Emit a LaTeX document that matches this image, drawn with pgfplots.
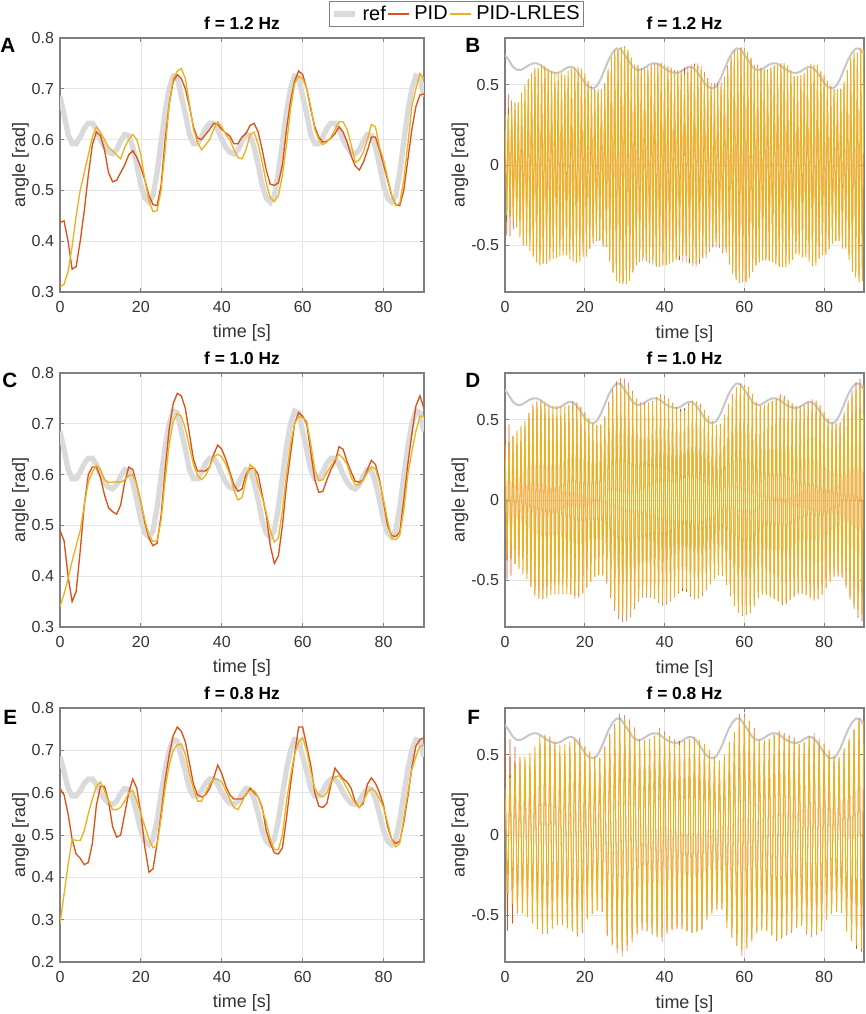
\documentclass[border=0pt]{standalone}
\usepackage{fontspec}
\setmainfont{Liberation Sans}
\usepackage{pgfplots}
\usepackage{pgfplotstable}
\pgfplotsset{compat=1.18}

\definecolor{cpid}{rgb}{0.85,0.325,0.098}
\definecolor{clr}{rgb}{0.929,0.694,0.125}
\definecolor{cref}{rgb}{0.855,0.855,0.855}
\definecolor{crefr}{rgb}{0.78,0.78,0.78}
\definecolor{caxis}{rgb}{0.5,0.5,0.5}
\definecolor{ctext}{rgb}{0.2,0.2,0.2}
\definecolor{cgrid}{rgb}{0.9,0.9,0.9}

\pgfplotstableread{
t r
0 0.685
1 0.65
2 0.61
3 0.592
4 0.592
5 0.605
6 0.622
7 0.632
8 0.632
9 0.62
10 0.60
11 0.585
12 0.575
13 0.572
14 0.58
15 0.597
16 0.61
17 0.608
18 0.585
19 0.55
20 0.51
21 0.485
22 0.477
23 0.49
24 0.535
25 0.595
26 0.655
27 0.70
28 0.725
29 0.722
30 0.685
31 0.65
32 0.61
33 0.592
34 0.592
35 0.605
36 0.622
37 0.632
38 0.632
39 0.62
40 0.60
41 0.585
42 0.575
43 0.572
44 0.58
45 0.597
46 0.61
47 0.608
48 0.585
49 0.55
50 0.51
51 0.485
52 0.477
53 0.49
54 0.535
55 0.595
56 0.655
57 0.70
58 0.725
59 0.722
60 0.685
61 0.65
62 0.61
63 0.592
64 0.592
65 0.605
66 0.622
67 0.632
68 0.632
69 0.62
70 0.60
71 0.585
72 0.575
73 0.572
74 0.58
75 0.597
76 0.61
77 0.608
78 0.585
79 0.55
80 0.51
81 0.485
82 0.477
83 0.49
84 0.535
85 0.595
86 0.655
87 0.70
88 0.725
89 0.722
90 0.685
}\tref

% panel A: t, PID-LRLES (a), PID (p)
\pgfplotstableread{
t a p
0 0.31 0.437
1 0.315 0.44
2 0.34 0.40
3 0.39 0.345
4 0.45 0.35
5 0.50 0.40
6 0.535 0.46
7 0.57 0.53
8 0.605 0.59
9 0.625 0.615
10 0.615 0.608
11 0.60 0.58
12 0.585 0.535
13 0.578 0.517
14 0.57 0.52
15 0.562 0.535
16 0.585 0.55
17 0.60 0.57
18 0.61 0.578
19 0.60 0.565
20 0.57 0.545
21 0.52 0.52
22 0.48 0.49
23 0.458 0.472
24 0.46 0.47
25 0.50 0.51
26 0.58 0.60
27 0.67 0.67
28 0.72 0.715
29 0.735 0.728
30 0.74 0.72
31 0.72 0.70
32 0.67 0.665
33 0.62 0.625
34 0.595 0.603
35 0.58 0.60
36 0.59 0.61
37 0.60 0.62
38 0.62 0.632
39 0.635 0.63
40 0.625 0.62
41 0.61 0.613
42 0.60 0.607
43 0.58 0.592
44 0.565 0.592
45 0.562 0.605
46 0.58 0.612
47 0.61 0.628
48 0.615 0.632
49 0.59 0.615
50 0.555 0.58
51 0.515 0.54
52 0.485 0.512
53 0.478 0.51
54 0.49 0.515
55 0.53 0.55
56 0.59 0.62
57 0.66 0.675
58 0.71 0.715
59 0.725 0.735
60 0.72 0.728
61 0.70 0.70
62 0.665 0.66
63 0.62 0.625
64 0.60 0.605
65 0.59 0.595
66 0.595 0.597
67 0.605 0.603
68 0.62 0.612
69 0.635 0.625
70 0.635 0.615
71 0.62 0.595
72 0.59 0.568
73 0.555 0.548
74 0.56 0.54
75 0.575 0.555
76 0.60 0.578
77 0.63 0.605
78 0.625 0.605
79 0.585 0.58
80 0.56 0.55
81 0.525 0.52
82 0.49 0.49
83 0.47 0.472
84 0.475 0.47
85 0.52 0.50
86 0.59 0.56
87 0.665 0.62
88 0.70 0.665
89 0.73 0.688
90 0.72 0.69
}\tA

\pgfplotstableread{
t a p
0 0.34 0.49
1 0.365 0.47
2 0.395 0.40
3 0.43 0.35
4 0.46 0.37
5 0.49 0.45
6 0.54 0.54
7 0.585 0.60
8 0.605 0.615
9 0.618 0.615
10 0.61 0.595
11 0.59 0.56
12 0.585 0.535
13 0.585 0.527
14 0.586 0.522
15 0.585 0.54
16 0.59 0.585
17 0.598 0.615
18 0.60 0.61
19 0.58 0.58
20 0.545 0.545
21 0.51 0.505
22 0.48 0.475
23 0.468 0.46
24 0.47 0.465
25 0.51 0.52
26 0.59 0.61
27 0.66 0.69
28 0.705 0.74
29 0.72 0.76
30 0.715 0.755
31 0.69 0.73
32 0.655 0.68
33 0.62 0.63
34 0.598 0.607
35 0.59 0.607
36 0.598 0.607
37 0.615 0.615
38 0.635 0.64
39 0.64 0.658
40 0.635 0.65
41 0.62 0.63
42 0.60 0.605
43 0.57 0.58
44 0.55 0.567
45 0.555 0.572
46 0.59 0.60
47 0.62 0.612
48 0.612 0.613
49 0.58 0.60
50 0.555 0.56
51 0.525 0.52
52 0.49 0.46
53 0.467 0.425
54 0.475 0.44
55 0.53 0.50
56 0.60 0.58
57 0.66 0.64
58 0.70 0.70
59 0.715 0.722
60 0.712 0.715
61 0.705 0.70
62 0.66 0.645
63 0.61 0.59
64 0.588 0.565
65 0.59 0.567
66 0.605 0.59
67 0.617 0.61
68 0.63 0.625
69 0.64 0.655
70 0.632 0.65
71 0.62 0.625
72 0.595 0.605
73 0.58 0.587
74 0.58 0.585
75 0.59 0.59
76 0.605 0.61
77 0.615 0.628
78 0.612 0.62
79 0.585 0.59
80 0.55 0.545
81 0.51 0.50
82 0.475 0.48
83 0.472 0.478
84 0.48 0.487
85 0.53 0.55
86 0.60 0.62
87 0.645 0.68
88 0.685 0.735
89 0.715 0.755
90 0.715 0.73
}\tC

\pgfplotstableread{
t a p
0 0.29 0.61
1 0.36 0.595
2 0.43 0.55
3 0.49 0.49
4 0.487 0.455
5 0.487 0.445
6 0.51 0.43
7 0.55 0.435
8 0.585 0.48
9 0.615 0.57
10 0.625 0.615
11 0.605 0.615
12 0.58 0.58
13 0.56 0.52
14 0.56 0.495
15 0.565 0.50
16 0.58 0.55
17 0.60 0.60
18 0.605 0.632
19 0.58 0.61
20 0.55 0.55
21 0.52 0.47
22 0.49 0.412
23 0.47 0.42
24 0.475 0.48
25 0.54 0.55
26 0.61 0.63
27 0.665 0.69
28 0.70 0.735
29 0.713 0.755
30 0.715 0.745
31 0.69 0.72
32 0.645 0.67
33 0.61 0.62
34 0.58 0.595
35 0.58 0.59
36 0.60 0.595
37 0.62 0.61
38 0.632 0.635
39 0.632 0.665
40 0.625 0.645
41 0.605 0.615
42 0.585 0.595
43 0.565 0.585
44 0.56 0.585
45 0.578 0.585
46 0.598 0.595
47 0.605 0.61
48 0.605 0.60
49 0.59 0.59
50 0.56 0.565
51 0.53 0.51
52 0.49 0.48
53 0.465 0.458
54 0.465 0.455
55 0.50 0.47
56 0.58 0.54
57 0.64 0.62
58 0.69 0.69
59 0.72 0.755
60 0.73 0.755
61 0.70 0.71
62 0.65 0.665
63 0.61 0.60
64 0.595 0.568
65 0.59 0.565
66 0.60 0.575
67 0.625 0.62
68 0.637 0.658
69 0.64 0.645
70 0.628 0.633
71 0.61 0.625
72 0.59 0.61
73 0.575 0.578
74 0.565 0.565
75 0.58 0.575
76 0.60 0.62
77 0.61 0.635
78 0.603 0.622
79 0.585 0.60
80 0.565 0.57
81 0.53 0.52
82 0.49 0.49
83 0.472 0.48
84 0.48 0.485
85 0.54 0.53
86 0.60 0.59
87 0.655 0.66
88 0.685 0.71
89 0.71 0.725
90 0.712 0.73
}\tE

% panel B: oscillation peaks, f = 1.2 Hz
\pgfplotstableread{
t a p
0 0.31 0.437
0.42 -0.31 -0.437
0.83 0.315 0.44
1.25 -0.315 -0.44
1.67 0.34 0.40
2.08 -0.34 -0.40
2.5 0.39 0.345
2.92 -0.39 -0.345
3.33 0.39 0.345
3.75 -0.45 -0.35
4.17 0.45 0.35
4.58 -0.50 -0.40
5 0.50 0.40
5.42 -0.50 -0.40
5.83 0.535 0.46
6.25 -0.535 -0.46
6.67 0.57 0.53
7.08 -0.57 -0.53
7.5 0.605 0.59
7.92 -0.605 -0.59
8.33 0.605 0.59
8.75 -0.625 -0.615
9.17 0.625 0.615
9.58 -0.615 -0.608
10 0.615 0.608
10.42 -0.615 -0.608
10.83 0.60 0.58
11.25 -0.60 -0.58
11.67 0.585 0.535
12.08 -0.585 -0.535
12.5 0.578 0.517
12.92 -0.578 -0.517
13.33 0.578 0.517
13.75 -0.57 -0.52
14.17 0.57 0.52
14.58 -0.562 -0.535
15 0.562 0.535
15.42 -0.562 -0.535
15.83 0.585 0.55
16.25 -0.585 -0.55
16.67 0.60 0.57
17.08 -0.60 -0.57
17.5 0.61 0.578
17.92 -0.61 -0.578
18.33 0.61 0.578
18.75 -0.60 -0.565
19.17 0.60 0.565
19.58 -0.57 -0.545
20 0.57 0.545
20.42 -0.57 -0.545
20.83 0.52 0.52
21.25 -0.52 -0.52
21.67 0.48 0.49
22.08 -0.48 -0.49
22.5 0.458 0.472
22.92 -0.458 -0.472
23.33 0.458 0.472
23.75 -0.46 -0.47
24.17 0.46 0.47
24.58 -0.50 -0.51
25 0.50 0.51
25.42 -0.50 -0.51
25.83 0.58 0.60
26.25 -0.58 -0.60
26.67 0.67 0.67
27.08 -0.67 -0.67
27.5 0.72 0.715
27.92 -0.72 -0.715
28.33 0.72 0.715
28.75 -0.735 -0.728
29.17 0.735 0.728
29.58 -0.74 -0.72
30 0.74 0.72
30.42 -0.74 -0.72
30.83 0.72 0.70
31.25 -0.72 -0.70
31.67 0.67 0.665
32.08 -0.67 -0.665
32.5 0.62 0.625
32.92 -0.62 -0.625
33.33 0.62 0.625
33.75 -0.595 -0.603
34.17 0.595 0.603
34.58 -0.58 -0.60
35 0.58 0.60
35.42 -0.58 -0.60
35.83 0.59 0.61
36.25 -0.59 -0.61
36.67 0.60 0.62
37.08 -0.60 -0.62
37.5 0.62 0.632
37.92 -0.62 -0.632
38.33 0.62 0.632
38.75 -0.635 -0.63
39.17 0.635 0.63
39.58 -0.625 -0.62
40 0.625 0.62
40.42 -0.625 -0.62
40.83 0.61 0.613
41.25 -0.61 -0.613
41.67 0.60 0.607
42.08 -0.60 -0.607
42.5 0.58 0.592
42.92 -0.58 -0.592
43.33 0.58 0.592
43.75 -0.565 -0.592
44.17 0.565 0.592
44.58 -0.562 -0.605
45 0.562 0.605
45.42 -0.562 -0.605
45.83 0.58 0.612
46.25 -0.58 -0.612
46.67 0.61 0.628
47.08 -0.61 -0.628
47.5 0.615 0.632
47.92 -0.615 -0.632
48.33 0.615 0.632
48.75 -0.59 -0.615
49.17 0.59 0.615
49.58 -0.555 -0.58
50 0.555 0.58
50.42 -0.555 -0.58
50.83 0.515 0.54
51.25 -0.515 -0.54
51.67 0.485 0.512
52.08 -0.485 -0.512
52.5 0.478 0.51
52.92 -0.478 -0.51
53.33 0.478 0.51
53.75 -0.49 -0.515
54.17 0.49 0.515
54.58 -0.53 -0.55
55 0.53 0.55
55.42 -0.53 -0.55
55.83 0.59 0.62
56.25 -0.59 -0.62
56.67 0.66 0.675
57.08 -0.66 -0.675
57.5 0.71 0.715
57.92 -0.71 -0.715
58.33 0.71 0.715
58.75 -0.725 -0.735
59.17 0.725 0.735
59.58 -0.72 -0.728
60 0.72 0.728
60.42 -0.72 -0.728
60.83 0.70 0.70
61.25 -0.70 -0.70
61.67 0.665 0.66
62.08 -0.665 -0.66
62.5 0.62 0.625
62.92 -0.62 -0.625
63.33 0.62 0.625
63.75 -0.60 -0.605
64.17 0.60 0.605
64.58 -0.59 -0.595
65 0.59 0.595
65.42 -0.59 -0.595
65.83 0.595 0.597
66.25 -0.595 -0.597
66.67 0.605 0.603
67.08 -0.605 -0.603
67.5 0.62 0.612
67.92 -0.62 -0.612
68.33 0.62 0.612
68.75 -0.635 -0.625
69.17 0.635 0.625
69.58 -0.635 -0.615
70 0.635 0.615
70.42 -0.635 -0.615
70.83 0.62 0.595
71.25 -0.62 -0.595
71.67 0.59 0.568
72.08 -0.59 -0.568
72.5 0.555 0.548
72.92 -0.555 -0.548
73.33 0.555 0.548
73.75 -0.56 -0.54
74.17 0.56 0.54
74.58 -0.575 -0.555
75 0.575 0.555
75.42 -0.575 -0.555
75.83 0.60 0.578
76.25 -0.60 -0.578
76.67 0.63 0.605
77.08 -0.63 -0.605
77.5 0.625 0.605
77.92 -0.625 -0.605
78.33 0.625 0.605
78.75 -0.585 -0.58
79.17 0.585 0.58
79.58 -0.56 -0.55
80 0.56 0.55
80.42 -0.56 -0.55
80.83 0.525 0.52
81.25 -0.525 -0.52
81.67 0.49 0.49
82.08 -0.49 -0.49
82.5 0.47 0.472
82.92 -0.47 -0.472
83.33 0.47 0.472
83.75 -0.475 -0.47
84.17 0.475 0.47
84.58 -0.52 -0.50
85 0.52 0.50
85.42 -0.52 -0.50
85.83 0.59 0.56
86.25 -0.59 -0.56
86.67 0.665 0.62
87.08 -0.665 -0.62
87.5 0.70 0.665
87.92 -0.70 -0.665
88.33 0.70 0.665
88.75 -0.73 -0.688
89.17 0.73 0.688
89.58 -0.72 -0.69
90 0.72 0.69
}\tB

% panel D: oscillation peaks, f = 1.0 Hz
\pgfplotstableread{
t a p
0 0.34 0.49
0.5 -0.34 -0.49
1 0.365 0.47
1.5 -0.365 -0.47
2 0.395 0.40
2.5 -0.395 -0.40
3 0.43 0.35
3.5 -0.43 -0.35
4 0.46 0.37
4.5 -0.46 -0.37
5 0.49 0.45
5.5 -0.49 -0.45
6 0.54 0.54
6.5 -0.54 -0.54
7 0.585 0.60
7.5 -0.585 -0.60
8 0.605 0.615
8.5 -0.605 -0.615
9 0.618 0.615
9.5 -0.618 -0.615
10 0.61 0.595
10.5 -0.61 -0.595
11 0.59 0.56
11.5 -0.59 -0.56
12 0.585 0.535
12.5 -0.585 -0.535
13 0.585 0.527
13.5 -0.585 -0.527
14 0.586 0.522
14.5 -0.586 -0.522
15 0.585 0.54
15.5 -0.585 -0.54
16 0.59 0.585
16.5 -0.59 -0.585
17 0.598 0.615
17.5 -0.598 -0.615
18 0.60 0.61
18.5 -0.60 -0.61
19 0.58 0.58
19.5 -0.58 -0.58
20 0.545 0.545
20.5 -0.545 -0.545
21 0.51 0.505
21.5 -0.51 -0.505
22 0.48 0.475
22.5 -0.48 -0.475
23 0.468 0.46
23.5 -0.468 -0.46
24 0.47 0.465
24.5 -0.47 -0.465
25 0.51 0.52
25.5 -0.51 -0.52
26 0.59 0.61
26.5 -0.59 -0.61
27 0.66 0.69
27.5 -0.66 -0.69
28 0.705 0.74
28.5 -0.705 -0.74
29 0.72 0.76
29.5 -0.72 -0.76
30 0.715 0.755
30.5 -0.715 -0.755
31 0.69 0.73
31.5 -0.69 -0.73
32 0.655 0.68
32.5 -0.655 -0.68
33 0.62 0.63
33.5 -0.62 -0.63
34 0.598 0.607
34.5 -0.598 -0.607
35 0.59 0.607
35.5 -0.59 -0.607
36 0.598 0.607
36.5 -0.598 -0.607
37 0.615 0.615
37.5 -0.615 -0.615
38 0.635 0.64
38.5 -0.635 -0.64
39 0.64 0.658
39.5 -0.64 -0.658
40 0.635 0.65
40.5 -0.635 -0.65
41 0.62 0.63
41.5 -0.62 -0.63
42 0.60 0.605
42.5 -0.60 -0.605
43 0.57 0.58
43.5 -0.57 -0.58
44 0.55 0.567
44.5 -0.55 -0.567
45 0.555 0.572
45.5 -0.555 -0.572
46 0.59 0.60
46.5 -0.59 -0.60
47 0.62 0.612
47.5 -0.62 -0.612
48 0.612 0.613
48.5 -0.612 -0.613
49 0.58 0.60
49.5 -0.58 -0.60
50 0.555 0.56
50.5 -0.555 -0.56
51 0.525 0.52
51.5 -0.525 -0.52
52 0.49 0.46
52.5 -0.49 -0.46
53 0.467 0.425
53.5 -0.467 -0.425
54 0.475 0.44
54.5 -0.475 -0.44
55 0.53 0.50
55.5 -0.53 -0.50
56 0.60 0.58
56.5 -0.60 -0.58
57 0.66 0.64
57.5 -0.66 -0.64
58 0.70 0.70
58.5 -0.70 -0.70
59 0.715 0.722
59.5 -0.715 -0.722
60 0.712 0.715
60.5 -0.712 -0.715
61 0.705 0.70
61.5 -0.705 -0.70
62 0.66 0.645
62.5 -0.66 -0.645
63 0.61 0.59
63.5 -0.61 -0.59
64 0.588 0.565
64.5 -0.588 -0.565
65 0.59 0.567
65.5 -0.59 -0.567
66 0.605 0.59
66.5 -0.605 -0.59
67 0.617 0.61
67.5 -0.617 -0.61
68 0.63 0.625
68.5 -0.63 -0.625
69 0.64 0.655
69.5 -0.64 -0.655
70 0.632 0.65
70.5 -0.632 -0.65
71 0.62 0.625
71.5 -0.62 -0.625
72 0.595 0.605
72.5 -0.595 -0.605
73 0.58 0.587
73.5 -0.58 -0.587
74 0.58 0.585
74.5 -0.58 -0.585
75 0.59 0.59
75.5 -0.59 -0.59
76 0.605 0.61
76.5 -0.605 -0.61
77 0.615 0.628
77.5 -0.615 -0.628
78 0.612 0.62
78.5 -0.612 -0.62
79 0.585 0.59
79.5 -0.585 -0.59
80 0.55 0.545
80.5 -0.55 -0.545
81 0.51 0.50
81.5 -0.51 -0.50
82 0.475 0.48
82.5 -0.475 -0.48
83 0.472 0.478
83.5 -0.472 -0.478
84 0.48 0.487
84.5 -0.48 -0.487
85 0.53 0.55
85.5 -0.53 -0.55
86 0.60 0.62
86.5 -0.60 -0.62
87 0.645 0.68
87.5 -0.645 -0.68
88 0.685 0.735
88.5 -0.685 -0.735
89 0.715 0.755
89.5 -0.715 -0.755
90 0.715 0.73
}\tD

% panel F: oscillation peaks, f = 0.8 Hz
\pgfplotstableread{
t a p
0 0.29 0.61
0.625 -0.36 -0.595
1.25 0.36 0.595
1.875 -0.43 -0.55
2.5 0.43 0.55
3.125 -0.49 -0.49
3.75 0.487 0.455
4.375 -0.487 -0.455
5 0.487 0.445
5.625 -0.51 -0.43
6.25 0.51 0.43
6.875 -0.55 -0.435
7.5 0.55 0.435
8.125 -0.585 -0.48
8.75 0.615 0.57
9.375 -0.615 -0.57
10 0.625 0.615
10.625 -0.605 -0.615
11.25 0.605 0.615
11.875 -0.58 -0.58
12.5 0.58 0.58
13.125 -0.56 -0.52
13.75 0.56 0.495
14.375 -0.56 -0.495
15 0.565 0.50
15.625 -0.58 -0.55
16.25 0.58 0.55
16.875 -0.60 -0.60
17.5 0.60 0.60
18.125 -0.605 -0.632
18.75 0.58 0.61
19.375 -0.58 -0.61
20 0.55 0.55
20.625 -0.52 -0.47
21.25 0.52 0.47
21.875 -0.49 -0.412
22.5 0.49 0.412
23.125 -0.47 -0.42
23.75 0.475 0.48
24.375 -0.475 -0.48
25 0.54 0.55
25.625 -0.61 -0.63
26.25 0.61 0.63
26.875 -0.665 -0.69
27.5 0.665 0.69
28.125 -0.70 -0.735
28.75 0.713 0.755
29.375 -0.713 -0.755
30 0.715 0.745
30.625 -0.69 -0.72
31.25 0.69 0.72
31.875 -0.645 -0.67
32.5 0.645 0.67
33.125 -0.61 -0.62
33.75 0.58 0.595
34.375 -0.58 -0.595
35 0.58 0.59
35.625 -0.60 -0.595
36.25 0.60 0.595
36.875 -0.62 -0.61
37.5 0.62 0.61
38.125 -0.632 -0.635
38.75 0.632 0.665
39.375 -0.632 -0.665
40 0.625 0.645
40.625 -0.605 -0.615
41.25 0.605 0.615
41.875 -0.585 -0.595
42.5 0.585 0.595
43.125 -0.565 -0.585
43.75 0.56 0.585
44.375 -0.56 -0.585
45 0.578 0.585
45.625 -0.598 -0.595
46.25 0.598 0.595
46.875 -0.605 -0.61
47.5 0.605 0.61
48.125 -0.605 -0.60
48.75 0.59 0.59
49.375 -0.59 -0.59
50 0.56 0.565
50.625 -0.53 -0.51
51.25 0.53 0.51
51.875 -0.49 -0.48
52.5 0.49 0.48
53.125 -0.465 -0.458
53.75 0.465 0.455
54.375 -0.465 -0.455
55 0.50 0.47
55.625 -0.58 -0.54
56.25 0.58 0.54
56.875 -0.64 -0.62
57.5 0.64 0.62
58.125 -0.69 -0.69
58.75 0.72 0.755
59.375 -0.72 -0.755
60 0.73 0.755
60.625 -0.70 -0.71
61.25 0.70 0.71
61.875 -0.65 -0.665
62.5 0.65 0.665
63.125 -0.61 -0.60
63.75 0.595 0.568
64.375 -0.595 -0.568
65 0.59 0.565
65.625 -0.60 -0.575
66.25 0.60 0.575
66.875 -0.625 -0.62
67.5 0.625 0.62
68.125 -0.637 -0.658
68.75 0.64 0.645
69.375 -0.64 -0.645
70 0.628 0.633
70.625 -0.61 -0.625
71.25 0.61 0.625
71.875 -0.59 -0.61
72.5 0.59 0.61
73.125 -0.575 -0.578
73.75 0.565 0.565
74.375 -0.565 -0.565
75 0.58 0.575
75.625 -0.60 -0.62
76.25 0.60 0.62
76.875 -0.61 -0.635
77.5 0.61 0.635
78.125 -0.603 -0.622
78.75 0.585 0.60
79.375 -0.585 -0.60
80 0.565 0.57
80.625 -0.53 -0.52
81.25 0.53 0.52
81.875 -0.49 -0.49
82.5 0.49 0.49
83.125 -0.472 -0.48
83.75 0.48 0.485
84.375 -0.48 -0.485
85 0.54 0.53
85.625 -0.60 -0.59
86.25 0.60 0.59
86.875 -0.655 -0.66
87.5 0.655 0.66
88.125 -0.685 -0.71
88.75 0.71 0.725
89.375 -0.71 -0.725
90 0.712 0.73
}\tF

\pgfplotsset{
  panel/.style={
    scale only axis, height=190.5pt,
    xmin=0, xmax=90, xtick={0,20,40,60,80},
    axis line style={caxis, line width=0.9pt},
    tick style={caxis, line width=0.6pt},
    major tick length=2.8pt,
    tick align=inside,
    grid=major, grid style={cgrid, line width=0.5pt},
    ticklabel style={font=\fontsize{12}{14}\selectfont, text=ctext},
    xticklabel style={yshift=-3.5pt},
    yticklabel style={xshift=-1pt},
    /pgf/number format/assume math mode=true,
    label style={font=\fontsize{13.5}{16}\selectfont, text=ctext},
    xlabel={time [s]}, ylabel={angle [rad]},
    xlabel style={at={(axis description cs:0.5,0)}, anchor=center, yshift=-31pt},
    every axis title shift=0pt,
    title style={font=\fontsize{13}{15}\selectfont\bfseries, text=black,
      at={(axis description cs:0.5,1)}, anchor=base, yshift=6.5pt},
    legend image code/.code={\draw[#1] (0pt,0pt) -- (15.5pt,0pt);},
  },
  lpanel/.style={panel, width=273pt,
    ylabel style={at={(axis description cs:-0.1085,0.5)}, anchor=center}},
  rpanel/.style={panel, width=269.25pt, ymin=-0.79, ymax=0.79,
    ytick={-0.5,0,0.5},
    ylabel style={at={(axis description cs:-0.1253,0.5)}, anchor=center}},
  refl/.style={cref, line width=4pt},
  refr/.style={crefr, line width=1.5pt},
  pidl/.style={cpid, line width=1pt},
  lrl/.style={clr, line width=1pt},
  pidr/.style={cpid, line width=0.4pt},
  lrr/.style={clr, line width=0.75pt},
}

\newcommand{\plet}[1]{{\fontsize{15.5}{18}\selectfont\bfseries #1}}

\begin{document}
\begin{tikzpicture}
\path[use as bounding box] (0pt,0pt) rectangle (648.75pt,-760.5pt);

% ---------- A ----------
\begin{axis}[lpanel, at={(45pt,-28.5pt)}, anchor=north west,
  ymin=0.3, ymax=0.8, ytick={0.3,0.4,0.5,0.6,0.7,0.8},
  title={f = 1.2 Hz},
  legend style={at={(axis description cs:1.089,1.0945)}, anchor=center,
    legend columns=3, draw=caxis, line width=0.6pt, fill=white,
    font=\fontsize{15}{17}\selectfont, inner xsep=2pt, inner ysep=2pt,
    nodes={inner sep=1.2pt, text=black},
    /tikz/every odd column/.append style={column sep=2.5pt}},
  legend cell align=left]
\addplot[refl] table[x=t, y=r] {\tref};
\addlegendentry{ref}
\addplot[pidl] table[x=t, y=p] {\tA};
\addlegendentry{PID}
\addplot[lrl] table[x=t, y=a] {\tA};
\addlegendentry{PID-LRLES}
\end{axis}

% ---------- B ----------
\begin{axis}[rpanel, at={(378.75pt,-28.5pt)}, anchor=north west,
  title={f = 1.2 Hz}]
\addplot[refr] table[x=t, y=r] {\tref};
\addplot[pidr] table[x=t, y=p] {\tB};
\addplot[lrr] table[x=t, y=a] {\tB};
\end{axis}

% ---------- C ----------
\begin{axis}[lpanel, at={(45pt,-279.75pt)}, anchor=north west,
  ymin=0.3, ymax=0.8, ytick={0.3,0.4,0.5,0.6,0.7,0.8},
  title={f = 1.0 Hz}]
\addplot[refl] table[x=t, y=r] {\tref};
\addplot[pidl] table[x=t, y=p] {\tC};
\addplot[lrl] table[x=t, y=a] {\tC};
\end{axis}

% ---------- D ----------
\begin{axis}[rpanel, at={(378.75pt,-279.75pt)}, anchor=north west,
  title={f = 1.0 Hz}]
\addplot[refr] table[x=t, y=r] {\tref};
\addplot[pidr] table[x=t, y=p] {\tD};
\addplot[lrr] table[x=t, y=a] {\tD};
\end{axis}

% ---------- E ----------
\begin{axis}[lpanel, at={(45pt,-531pt)}, anchor=north west,
  ymin=0.2, ymax=0.8, ytick={0.2,0.3,0.4,0.5,0.6,0.7,0.8},
  title={f = 0.8 Hz}]
\addplot[refl] table[x=t, y=r] {\tref};
\addplot[pidl] table[x=t, y=p] {\tE};
\addplot[lrl] table[x=t, y=a] {\tE};
\end{axis}

% ---------- F ----------
\begin{axis}[rpanel, at={(378.75pt,-531pt)}, anchor=north west,
  title={f = 0.8 Hz}]
\addplot[refr] table[x=t, y=r] {\tref};
\addplot[pidr] table[x=t, y=p] {\tF};
\addplot[lrr] table[x=t, y=a] {\tF};
\end{axis}

% panel letters
\node[anchor=north west, inner sep=0pt] at (0pt,-28.5pt) {\plet{A}};
\node[anchor=north west, inner sep=0pt] at (348.75pt,-28.5pt) {\plet{B}};
\node[anchor=north west, inner sep=0pt] at (1.5pt,-279.75pt) {\plet{C}};
\node[anchor=north west, inner sep=0pt] at (348.75pt,-279.75pt) {\plet{D}};
\node[anchor=north west, inner sep=0pt] at (2.25pt,-532.5pt) {\plet{E}};
\node[anchor=north west, inner sep=0pt] at (350.25pt,-532.5pt) {\plet{F}};
\end{tikzpicture}
\end{document}
